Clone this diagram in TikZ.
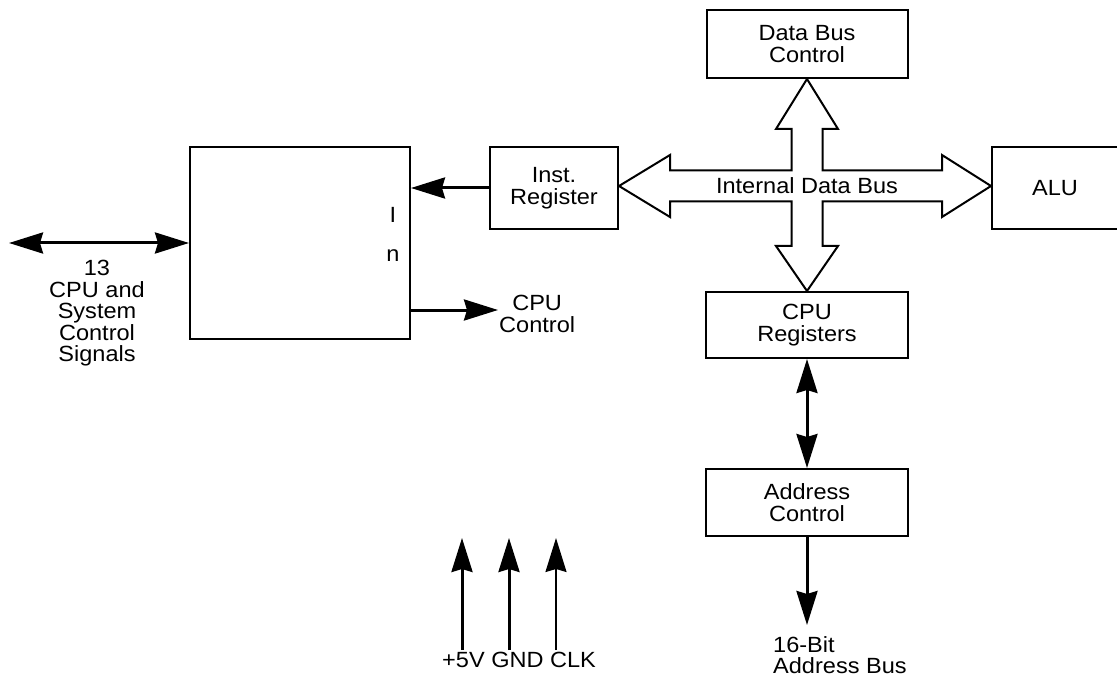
\documentclass[tikz,border=0pt]{standalone}
\usepackage{fontspec}
\setmainfont{Liberation Sans}[FakeStretch=1.07]
\usetikzlibrary{arrows.meta,calc,positioning}
\newcommand{\dgmfont}{\fontsize{22}{21.5}\selectfont}
\tikzset{
  blk/.style={
    draw=black, line width=2pt, inner sep=0pt,
    align=center, font=\dgmfont,
  },
  lbl/.style={inner sep=1pt, align=center, font=\dgmfont},
  arr/.style={-{Stealth[length=34pt,width=21pt,inset=3pt]}, line width=3pt},
  dblarr/.style={{Stealth[length=34pt,width=21pt,inset=3pt]}-{Stealth[length=34pt,width=21pt,inset=3pt]}, line width=3pt},
  thinarr/.style={-{Stealth[length=34pt,width=21pt,inset=3pt]}, line width=1.8pt},
  busarr/.style={draw=black, fill=white, line width=2pt, line join=miter},
}

\begin{document}
\begin{tikzpicture}[x=1pt,y=-1pt]
  \clip (0,0) rectangle (1117,679);

  % Blocks
  \node[blk, minimum width=220, minimum height=192] (ctrl) at (300,243) {};
  \node[lbl] (ltrI) at (393,215) {I};
  \node[lbl] (ltrn) at (393,256) {n};
  \node[blk, minimum width=128, minimum height=82] (ireg) at (554,188) {Inst.\\Register};
  \node[blk, minimum width=201, minimum height=68] (dbc) at (807,44) {Data Bus\\Control};
  \node[blk, minimum width=126, minimum height=82] (alu) at (1055,188) {ALU};
  \node[blk, minimum width=202, minimum height=66] (cpureg) at (807,325) {CPU\\Registers};
  \node[blk, minimum width=202, minimum height=67] (addr) at (807,502.5) {Address\\Control};

  % Internal data bus (hollow cross)
  \coordinate (bus) at (807,186);
  \draw[busarr] (dbc.south) -- ++(31,50) -- ++(-15.5,0)
    -- ($(bus)+(15.5,-15.5)$) -- ($(alu.west |- bus)+(-49,-15.5)$) -- ++(0,-15.5)
    -- (alu.west |- bus) -- ++(-49,31) -- ++(0,-15.5)
    -- ($(bus)+(15.5,15.5)$) -- ($(cpureg.north)+(15.5,-45)$) -- ++(15.5,0)
    -- (cpureg.north) -- ++(-31,-45) -- ++(15.5,0)
    -- ($(bus)+(-15.5,15.5)$) -- ($(ireg.east |- bus)+(51,15.5)$) -- ++(0,15.5)
    -- (ireg.east |- bus) -- ++(51,-31) -- ++(0,15.5)
    -- ($(bus)+(-15.5,-15.5)$) -- ($(dbc.south)+(-15.5,50)$) -- ++(-15.5,0) -- cycle;
  \node[lbl] (busname) at (bus) {Internal Data Bus};

  % Control signals
  \coordinate (sigend) at (9,243);
  \draw[dblarr] (sigend) -- (ctrl.west);
  \node[lbl, anchor=north] (sigtxt) at (97,259) {13\\CPU and\\System\\Control\\Signals};
  \draw[arr] (ireg.west) -- (ctrl.east |- ireg.west);
  \coordinate (ctlout) at (498,310);
  \draw[arr] (ctrl.east |- ctlout) -- (ctlout);
  \node[lbl, anchor=west] (cpuctl) at ($(ctlout)+(0,4)$) {CPU\\Control};

  % Address path
  \draw[dblarr] (cpureg.south) -- (addr.north);
  \coordinate (abus) at (807,625);
  \draw[arr] (addr.south) -- (abus);
  \node[lbl, anchor=north west, align=left] (abustxt) at (772,635) {16-Bit\\Address Bus};

  % Supply and clock
  \node[lbl, anchor=west] (supply) at (441,660) {+5V GND CLK};
  \coordinate (pwrtop) at (462,538);
  \coordinate (gndtop) at (509,538);
  \coordinate (clktop) at (556,538);
  \draw[arr] ($(pwrtop |- supply.north)+(0,-1)$) -- (pwrtop);
  \draw[arr] ($(gndtop |- supply.north)+(0,-1)$) -- (gndtop);
  \draw[thinarr] ($(clktop |- supply.north)+(0,-1)$) -- (clktop);
\end{tikzpicture}
\end{document}
